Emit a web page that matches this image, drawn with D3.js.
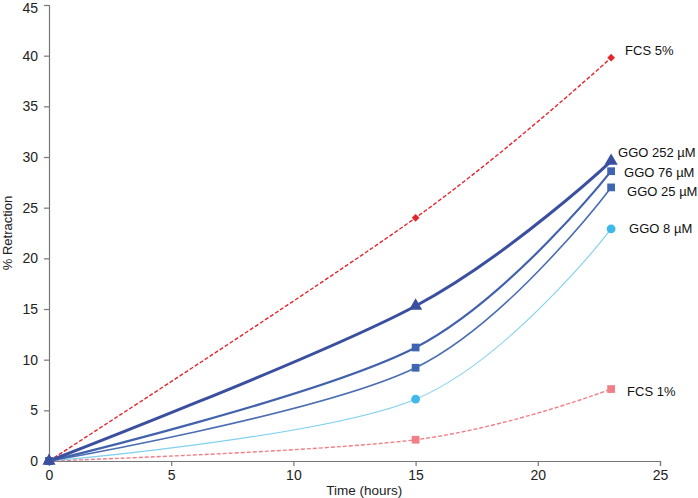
<!DOCTYPE html>
<html>
<head>
<meta charset="utf-8">
<script src="https://cdn.jsdelivr.net/npm/d3@7"></script>
<style>
  body { margin: 0; background: #fff; }
  text { font-family: "Liberation Sans", Arial, sans-serif; }
</style>
</head>
<body>
<svg id="chart" width="698" height="498"></svg>
<script>
// data
const times = [0, 15, 23];
const seriesNames = ["FCS 5%", "GGO 252 \u00b5M", "GGO 76 \u00b5M", "GGO 25 \u00b5M", "GGO 8 \u00b5M", "FCS 1%"];
const fcs5 = [0, 24.0, 39.8];
const ggo252 = [0, 15.3, 29.6];
const ggo76 = [0, 11.2, 28.6];
const ggo25 = [0, 9.2, 27.0];
const ggo8 = [0, 6.1, 22.9];
const fcs1 = [0, 2.1, 7.1];
const xTicks = [0, 5, 10, 15, 20, 25];
const yTicks = [0, 5, 10, 15, 20, 25, 30, 35, 40, 45];

// lx / ly: where each end label sits relative to the last point
const series = [
  { name: seriesNames[0], values: fcs5, color: "#e3262e", width: 1.4, dash: "4,2", marker: "diamond", mcolor: "#e3262e", size: 30, lx: 14, ly: -7 },
  { name: seriesNames[5], values: fcs1, color: "#f07f87", width: 1.4, dash: "4,2", marker: "square", mcolor: "#f07f87", size: 60, lx: 16, ly: 2 },
  { name: seriesNames[4], values: ggo8, color: "#7fd0ef", width: 1.1, dash: null, marker: "circle", mcolor: "#3fb8ea", size: 60, lx: 18, ly: 0 },
  { name: seriesNames[3], values: ggo25, color: "#4a6db3", width: 1.6, dash: null, marker: "square", mcolor: "#3f67b1", size: 60, lx: 16, ly: 4 },
  { name: seriesNames[2], values: ggo76, color: "#4262ad", width: 2.2, dash: null, marker: "square", mcolor: "#3f63b0", size: 60, lx: 13, ly: 1 },
  { name: seriesNames[1], values: ggo252, color: "#3a4f9f", width: 3, dash: null, marker: "triangle", mcolor: "#3a4f9f", size: 75, lx: 7, ly: -9 }
];

const svg = d3.select("#chart");
const margin = { top: 5, left: 49, right: 38, bottom: 37 };
const width = 698 - margin.left - margin.right;
const height = 498 - margin.top - margin.bottom;

const x = d3.scaleLinear().domain([0, 25]).range([0, width]);
const y = d3.scaleLinear().domain([0, 45]).range([height, 0]);

const g = svg.append("g").attr("transform", `translate(${margin.left},${margin.top})`);

// axes
const xAxis = g.append("g")
  .attr("transform", `translate(0,${height})`)
  .call(d3.axisBottom(x).tickValues(xTicks).tickSize(5).tickPadding(4));
const yAxis = g.append("g")
  .call(d3.axisLeft(y).tickValues(yTicks).tickSize(5).tickPadding(6));

[xAxis, yAxis].forEach(a => {
  a.select(".domain").attr("stroke", "#777").attr("stroke-width", 1.2);
  a.selectAll(".tick line").attr("stroke", "#777").attr("stroke-width", 1.2);
  a.selectAll(".tick text").attr("font-size", 14).attr("fill", "#222")
    .style("font-family", "'Liberation Sans', Arial, sans-serif");
});
// top label sits just inside the frame like the reference
yAxis.selectAll(".tick text").filter(d => d === 45).attr("dy", "0.5em");

svg.append("text")
  .attr("x", margin.left + x(12.9))
  .attr("y", 495)
  .attr("text-anchor", "middle")
  .attr("font-size", 13.5)
  .attr("fill", "#222")
  .text("Time (hours)");

svg.append("text")
  .attr("transform", `translate(12,${margin.top + y(22.5)}) rotate(-90)`)
  .attr("text-anchor", "middle")
  .attr("font-size", 13)
  .attr("fill", "#222")
  .text("% Retraction");

const line = d3.line()
  .x((d, i) => x(times[i]))
  .y(d => y(d))
  .curve(d3.curveCardinal.tension(0));

// excel-like diamond is a square turned 45 degrees
const symbolType = {
  diamond: d3.symbolSquare,
  square: d3.symbolSquare,
  circle: d3.symbolCircle,
  triangle: d3.symbolTriangle
};

series.forEach(s => {
  g.append("path")
    .datum(s.values)
    .attr("fill", "none")
    .attr("stroke", s.color)
    .attr("stroke-width", s.width)
    .attr("stroke-dasharray", s.dash)
    .attr("d", line);
});

series.forEach(s => {
  g.selectAll(null)
    .data(s.values)
    .enter()
    .append("path")
    .attr("transform", (d, i) => `translate(${x(times[i])},${y(d)})` + (s.marker === "diamond" ? " rotate(45)" : ""))
    .attr("d", d3.symbol().type(symbolType[s.marker]).size(s.size))
    .attr("fill", s.mcolor);

  const last = s.values[s.values.length - 1];
  g.append("text")
    .attr("x", x(times[times.length - 1]) + s.lx)
    .attr("y", y(last) + s.ly)
    .attr("dy", "0.35em")
    .attr("font-size", 13)
    .attr("fill", "#111")
    .text(s.name);
});
</script>
</body>
</html>
